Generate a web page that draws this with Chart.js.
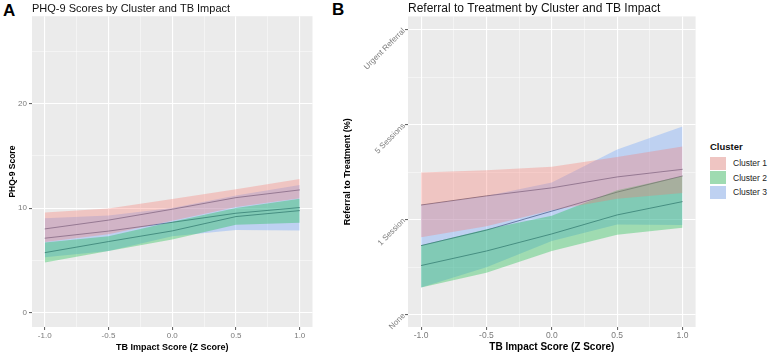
<!DOCTYPE html>
<html>
<head>
<meta charset="utf-8">
<script src="https://cdn.jsdelivr.net/npm/chart.js@4.4.0/dist/chart.umd.min.js"></script>
<style>
  body { margin: 0; background: #fff; font-family: "Liberation Sans", Arial, sans-serif; }
  #wrap { position: relative; width: 769px; height: 353px; overflow: hidden; }
  canvas { position: absolute; top: 0; }
  .tag { position: absolute; font-weight: bold; font-size: 17px; color: #000; line-height: 1; }
  #legend { position: absolute; left: 710px; top: 141px; color: #222; }
  #legend .ltitle { font-weight: bold; font-size: 9.5px; color: #111; margin-bottom: 4px; }
  #legend .row { display: flex; align-items: center; height: 14.5px; }
  #legend .key { width: 16px; height: 13px; background: #ebebeb; margin-right: 7px; }
  #legend .key div { width: 100%; height: 100%; }
  #legend .lbl { font-size: 8.5px; }
</style>
</head>
<body>
<div id="wrap">
  <div class="tag" style="left:3px;top:2px;">A</div>
  <div class="tag" style="left:332px;top:1px;">B</div>
  <canvas id="phqChart" width="318" height="353" style="left:0;"></canvas>
  <canvas id="refChart" width="382" height="353" style="left:318px;"></canvas>
  <div id="legend"></div>
</div>
<script>
// shared x axis (TB impact z score)
const xValues = [-1, -0.5, 0, 0.5, 1];
const xTicks = [-1, -0.5, 0, 0.5, 1];
const xMinorTicks = [-0.75, -0.25, 0.25, 0.75];
const clusterNames = ['Cluster 1', 'Cluster 2', 'Cluster 3'];

// panel A - PHQ-9 score, fitted line and confidence band per cluster
const phqFit1 = [8.01, 8.85, 9.89, 11.0, 11.74];
const phqLow1 = [6.75, 7.5, 8.8, 10.1, 10.95];
const phqHigh1 = [9.58, 9.95, 10.87, 11.8, 12.79];
const phqFit2 = [5.74, 6.8, 7.82, 9.19, 9.76];
const phqLow2 = [4.79, 5.9, 7.0, 8.4, 8.61];
const phqHigh2 = [6.7, 7.3, 8.7, 10.0, 10.9];
const phqFit3 = [7.12, 7.8, 8.64, 9.51, 10.05];
const phqLow3 = [5.3, 5.9, 7.3, 7.9, 7.85];
const phqHigh3 = [9.03, 9.3, 10.0, 11.2, 12.22];
const phqTicks = [0, 10, 20];
const phqMinorTicks = [5, 15, 25];

// panel B - referral level (0 = None ... 3 = Urgent Referral)
const refFit1 = [1.154, 1.25, 1.335, 1.45, 1.53];
const refLow1 = [0.815, 0.93, 1.10, 1.22, 1.28];
const refHigh1 = [1.497, 1.52, 1.556, 1.66, 1.77];
const refFit2 = [0.517, 0.67, 0.85, 1.05, 1.19];
const refLow2 = [0.287, 0.44, 0.67, 0.84, 0.916];
const refHigh2 = [0.73, 0.9, 1.04, 1.31, 1.46];
const refFit3 = [0.727, 0.89, 1.09, 1.29, 1.46];
const refLow3 = [0.287, 0.5, 0.775, 0.95, 0.944];
const refHigh3 = [1.154, 1.25, 1.39, 1.74, 1.98];
const refLevels = ['None', '1 Session', '5 Sessions', 'Urgent Referral'];
const refTicks = [0, 1, 2, 3];
const refMinorTicks = [0.5, 1.5, 2.5];

const clusterColors = ['248,118,109', '0,186,56', '97,156,255'];
const fontFamily = '"Liberation Sans", Arial, sans-serif';

const pts = (ys) => ys.map((y, i) => ({ x: xValues[i], y: y }));

// grey ggplot-like panel
const panelBackground = {
  id: 'panelBackground',
  beforeDraw(chart) {
    const { ctx, chartArea: a } = chart;
    ctx.save();
    ctx.fillStyle = '#ebebeb';
    ctx.fillRect(a.left, a.top, a.right - a.left, a.bottom - a.top);
    ctx.restore();
  }
};

function buildDatasets(lows, highs, fits) {
  const sets = [];
  lows.forEach((low, i) => {
    sets.push({ data: pts(low), borderColor: 'transparent', borderWidth: 0, pointRadius: 0, fill: false });
    sets.push({ data: pts(highs[i]), borderColor: 'transparent', borderWidth: 0, pointRadius: 0,
      fill: '-1', backgroundColor: `rgba(${clusterColors[i]},0.32)` });
  });
  fits.forEach(fit => {
    sets.push({ data: pts(fit), borderColor: 'rgba(45,45,65,0.85)', borderWidth: 0.8, pointRadius: 0, fill: false });
  });
  return sets;
}

function gridStyle(major) {
  return {
    color: (c) => major.includes(c.tick && c.tick.value) ? '#ffffff' : 'rgba(255,255,255,0.75)',
    lineWidth: (c) => major.includes(c.tick && c.tick.value) ? 1.1 : 0.6,
    tickLength: 3,
    tickColor: (c) => major.includes(c.tick && c.tick.value) ? '#666' : 'transparent'
  };
}

function xScale(tickSize, titleSize, height) {
  return {
    type: 'linear', min: -1.1, max: 1.1,
    afterBuildTicks: (s) => { s.ticks = [...xTicks, ...xMinorTicks].sort((a, b) => a - b).map(v => ({ value: v })); },
    afterFit: (s) => { s.height = height; },
    ticks: {
      autoSkip: false, maxRotation: 0, padding: 1, color: '#7a7a7a',
      font: { family: fontFamily, size: tickSize },
      callback: (v) => xTicks.includes(v) ? v.toFixed(1) : ''
    },
    grid: gridStyle(xTicks),
    border: { display: false },
    title: { display: true, text: 'TB Impact Score (Z Score)', color: '#000', padding: 0,
      font: { family: fontFamily, size: titleSize, weight: 'bold' } }
  };
}

new Chart(document.getElementById('phqChart'), {
  type: 'line',
  data: { datasets: buildDatasets([phqLow1, phqLow2, phqLow3], [phqHigh1, phqHigh2, phqHigh3], [phqFit1, phqFit2, phqFit3]) },
  options: {
    responsive: false, animation: false,
    layout: { padding: { left: 0, right: 5.5, top: 0, bottom: 0 } },
    plugins: {
      legend: { display: false }, tooltip: { enabled: false },
      title: { display: true, fullSize: false, align: 'start', text: 'PHQ-9 Scores by Cluster and TB Impact',
        color: '#111', padding: { top: 2, bottom: 1 }, font: { family: fontFamily, size: 11, weight: 'normal' } }
    },
    scales: {
      x: xScale(8, 9, 26),
      y: {
        type: 'linear', min: -1.37, max: 28.35,
        afterBuildTicks: (s) => { s.ticks = [...phqTicks, ...phqMinorTicks].sort((a, b) => a - b).map(v => ({ value: v })); },
        afterFit: (s) => { s.width = 32; },
        ticks: { autoSkip: false, padding: 2, color: '#7a7a7a', font: { family: fontFamily, size: 8 },
          callback: (v) => phqTicks.includes(v) ? String(v) : '' },
        grid: gridStyle(phqTicks),
        border: { display: false },
        title: { display: true, text: 'PHQ-9 Score', color: '#000', padding: { top: 8, bottom: 0 },
          font: { family: fontFamily, size: 8.5, weight: 'bold' } }
      }
    }
  },
  plugins: [panelBackground]
});

new Chart(document.getElementById('refChart'), {
  type: 'line',
  data: { datasets: buildDatasets([refLow1, refLow2, refLow3], [refHigh1, refHigh2, refHigh3], [refFit1, refFit2, refFit3]) },
  options: {
    responsive: false, animation: false,
    layout: { padding: { left: 24, right: 4.4, top: 0, bottom: 0 } },
    plugins: {
      legend: { display: false }, tooltip: { enabled: false },
      title: { display: true, fullSize: false, align: 'start', text: 'Referral to Treatment by Cluster and TB Impact',
        color: '#111', padding: { top: 1, bottom: 1 }, font: { family: fontFamily, size: 12, weight: 'normal' } }
    },
    scales: {
      x: xScale(8.5, 10, 26),
      y: {
        type: 'linear', min: -0.13, max: 3.14,
        afterBuildTicks: (s) => { s.ticks = [...refTicks, ...refMinorTicks].sort((a, b) => a - b).map(v => ({ value: v })); },
        afterFit: (s) => { s.width = 66; },
        ticks: { autoSkip: false, padding: 1, minRotation: 45, maxRotation: 45, color: '#7a7a7a',
          font: { family: fontFamily, size: 8 },
          callback: (v) => refTicks.includes(v) ? refLevels[v] : '' },
        grid: gridStyle(refTicks),
        border: { display: false },
        title: { display: true, text: 'Referral to Treatment (%)', color: '#000', padding: 0,
          font: { family: fontFamily, size: 9, weight: 'bold' } }
      }
    }
  },
  plugins: [panelBackground]
});

// legend
const legend = document.getElementById('legend');
legend.innerHTML = '<div class="ltitle">Cluster</div>' + clusterNames.map((name, i) =>
  `<div class="row"><div class="key"><div style="background:rgba(${clusterColors[i]},0.32)"></div></div><span class="lbl">${name}</span></div>`
).join('');
</script>
</body>
</html>
